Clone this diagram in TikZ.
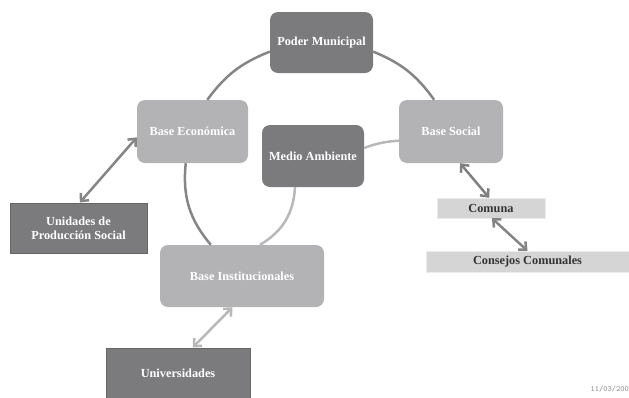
\documentclass[tikz,border=0pt]{standalone}
\usepackage{fontspec}
\setmainfont{Liberation Serif}
\usetikzlibrary{arrows.meta}

\definecolor{boxdark}{HTML}{7B7B7D}
\definecolor{boxlight}{HTML}{B3B3B5}
\definecolor{boxpale}{HTML}{D5D5D5}
\definecolor{linedark}{HTML}{858585}
\definecolor{linelight}{HTML}{B8B8B8}

\begin{document}
\begin{tikzpicture}[x=1pt,y=-1pt]

        \useasboundingbox (0,0) rectangle (629,397);

        \begin{scope}[every node/.style={font=\fontsize{12.3}{14}\selectfont\bfseries,
            text=white, align=center, inner sep=0pt, rounded corners=8pt}]
          \node[fill=boxdark,  minimum width=103, minimum height=61] (1) at (321.5,42.5) {Poder Municipal};
          \node[fill=boxlight, minimum width=111, minimum height=63] (2) at (192.5,131.5) {Base Económica};
          \node[fill=boxdark,  minimum width=102, minimum height=62] (3) at (313,156) {Medio Ambiente};
          \node[fill=boxlight, minimum width=104, minimum height=63] (4) at (451,131.5) {Base Social};
          \node[fill=boxlight, minimum width=164, minimum height=62] (6) at (242,276) {Base Institucionales};
        \end{scope}

        \begin{scope}[every node/.style={font=\fontsize{12.3}{14}\selectfont\bfseries,
            text=white, align=center, inner sep=0pt, fill=boxdark, draw=black!60, line width=1pt}]
          \node[minimum width=137, minimum height=50] (5) at (78.5,228) {Unidades de\\Producción Social};
          \node[minimum width=144, minimum height=50] (7) at (178,373) {Universidades};
        \end{scope}

        \begin{scope}[every node/.style={font=\fontsize{12.3}{14}\selectfont\bfseries,
            text=black!80, inner sep=0pt, fill=boxpale, draw=black!8}]
          \node[minimum width=108, minimum height=20] (8) at (491,208) {Comuna};
          \node[minimum width=203, minimum height=21] (9) at (527.5,261.5) {Consejos Comunales};
        \end{scope}

        \node[font=\fontsize{8}{9}\selectfont\ttfamily, text=black!45, anchor=east, inner sep=0pt] (10) at (629,389) {11/03/200};

        \begin{scope}[every edge/.style={draw, line width=2.5pt}]
          \path (1.190) edge[linedark, bend right=16] (2.65);
          \path (1.350) edge[linedark, bend left=16] (4.118);
          \path (2.258) edge[linedark, bend right=23] (6.135);
          \path (3.240) edge[linelight, bend left=28] (6.60);
          \path (3.9)   edge[linelight, bend left=8] (4.190);
        \end{scope}

        \begin{scope}[every edge/.style={draw, line width=2.5pt,
            {Straight Barb[length=6pt,width=11pt]}-{Straight Barb[length=6pt,width=11pt]}}]
          \path (2.186) edge[linedark] (5.87);
          \path (4.286) edge[black!50] (8.100);
          \path (8.275) edge[linedark] (9.90);
          \path (6.253) edge[linelight] (7.60);
        \end{scope}

      \end{tikzpicture}
\end{document}
